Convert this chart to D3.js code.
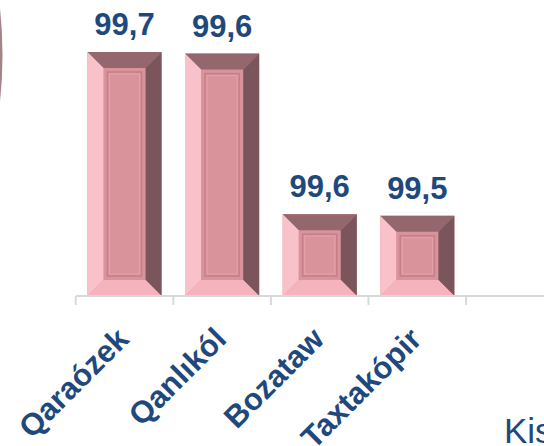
<!DOCTYPE html>
<html>
<head>
<meta charset="utf-8">
<script src="https://cdn.jsdelivr.net/npm/d3@7"></script>
<style>
  body { margin: 0; background: #fff; }
  svg { display: block; }
  .val { font-family: "Liberation Sans", Arial, sans-serif; font-weight: bold; font-size: 31px; fill: #1f497d; }
  .cat { font-family: "Liberation Sans", Arial, sans-serif; font-weight: bold; font-size: 31px; fill: #1f497d; }
</style>
</head>
<body>
<svg id="chart"></svg>
<script>
// data
const categories = ["Qaraózek", "Qanlıkól", "Bozataw", "Taxtakópir"];
const values = [99.6505, 99.6495, 99.5505, 99.5495];
const nextCategory = "Kis"; // cut off at the right edge

const W = 544, H = 446;
const svg = d3.select("#chart").attr("width", W).attr("height", H);

// comma decimals
const fmt = d3.formatLocale({ decimal: ",", thousands: " ", grouping: [3], currency: ["", ""] }).format(".1f");

var axisY = 296;

// x: one band per category, plus the next one that runs off the page
const x = d3.scaleBand()
  .domain(categories.concat([nextCategory]))
  .range([75.7, 563.7])
  .padding(0);

const y = d3.scaleLinear()
  .domain([99.5, d3.max(values)])
  .range([axisY, 52]);

// left edge decoration (piece of another shape)
svg.append("ellipse")
  .attr("cx", -200).attr("cy", 55)
  .attr("rx", 202.5).attr("ry", 300)
  .attr("fill", "#8a5a60")
  .attr("opacity", 0.75);

// bars with a bevel
const bev = 16;
const inset = x.bandwidth() * 0.12;
const bars = svg.append("g");

categories.forEach((c, i) => {
  const x0 = x(c) + inset, x1 = x(c) + x.bandwidth() - inset;
  const y0 = y(values[i]), y1 = axisY;
  const g = bars.append("g");
  const poly = (pts, fill) => g.append("polygon")
    .attr("points", pts.map(p => p.join(",")).join(" "))
    .attr("fill", fill);

  g.append("rect")
    .attr("x", x0).attr("y", y0)
    .attr("width", x1 - x0).attr("height", y1 - y0)
    .attr("fill", "#d8939b");
  poly([[x0, y0], [x1, y0], [x1 - bev, y0 + bev], [x0 + bev, y0 + bev]], "#93676d");
  poly([[x0, y0], [x0 + bev, y0 + bev], [x0 + bev, y1 - bev], [x0, y1]], "#f9c2cb");
  poly([[x1, y0], [x1, y1], [x1 - bev, y1 - bev], [x1 - bev, y0 + bev]], "#7a555c");
  poly([[x0, y1], [x0 + bev, y1 - bev], [x1 - bev, y1 - bev], [x1, y1]], "#f5b3bd");

  // inner panel lines
  g.append("rect")
    .attr("x", x0 + bev + 4).attr("y", y0 + bev + 4)
    .attr("width", x1 - x0 - 2 * bev - 8).attr("height", y1 - y0 - 2 * bev - 8)
    .attr("fill", "none")
    .attr("stroke", "#c47f88")
    .attr("stroke-width", 1.5);
  g.append("rect")
    .attr("x", x0 + bev + 6).attr("y", y0 + bev + 6)
    .attr("width", x1 - x0 - 2 * bev - 12).attr("height", y1 - y0 - 2 * bev - 12)
    .attr("fill", "none")
    .attr("stroke", "#e6a3ac")
    .attr("stroke-width", 1);

  // value label
  svg.append("text")
    .attr("class", "val")
    .attr("x", x(c) + x.bandwidth() / 2)
    .attr("y", y0 - 17)
    .attr("text-anchor", "middle")
    .text(fmt(values[i]));
});

// axis line and ticks at band edges
const axis = svg.append("g").attr("stroke", "#d9d9d9").attr("stroke-width", 2);
axis.append("line")
  .attr("x1", x.range()[0]).attr("x2", x.range()[1])
  .attr("y1", axisY).attr("y2", axisY);
axis.selectAll(".tick")
  .data(x.domain())
  .enter()
  .append("line")
  .attr("x1", d => x(d)).attr("x2", d => x(d))
  .attr("y1", axisY).attr("y2", axisY + 9);

// rotated category labels
svg.selectAll(".cat")
  .data(categories)
  .enter()
  .append("text")
  .attr("class", "cat")
  .attr("text-anchor", "end")
  .attr("transform", d => `translate(${x(d) + x.bandwidth() / 2 + 6},${axisY + 45}) rotate(-45)`)
  .text(d => d);

// cut-off text at bottom right
svg.append("text")
  .attr("x", 504)
  .attr("y", 443)
  .style("font-family", "Liberation Sans, Arial, sans-serif")
  .style("font-size", "35px")
  .style("fill", "#1f497d")
  .text(nextCategory);
</script>
</body>
</html>
